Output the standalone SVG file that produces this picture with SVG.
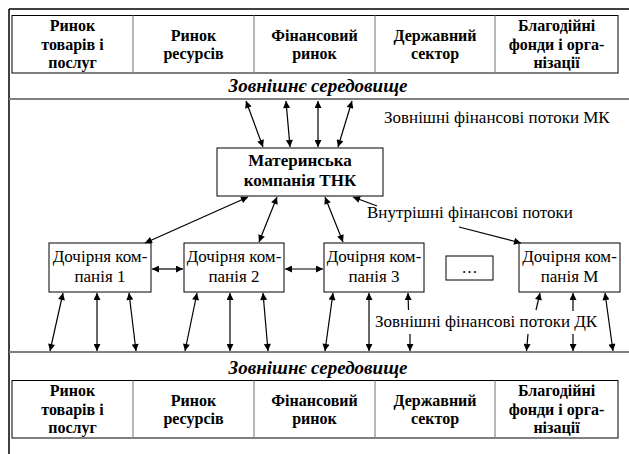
<svg xmlns="http://www.w3.org/2000/svg" width="629" height="454" viewBox="0 0 629 454">
<defs>
<marker id="ah" viewBox="0 0 10 10" refX="10" refY="5" markerWidth="9" markerHeight="7" markerUnits="userSpaceOnUse" orient="auto-start-reverse">
<path d="M0,0 L10,5 L0,10 z" fill="#000"/>
</marker>
</defs>
<rect width="629" height="454" fill="#fff"/>
<g id="frame">
<line x1="9" y1="9" x2="629" y2="9" stroke="#000" stroke-width="1.5"/>
<line x1="9" y1="9" x2="9" y2="454" stroke="#000" stroke-width="1.5"/>
<line x1="9" y1="99" x2="629" y2="99" stroke="#808080" stroke-width="2.2"/>
<line x1="9" y1="352" x2="629" y2="352" stroke="#808080" stroke-width="2.2"/>
</g>
<g id="top-table">
<rect x="12" y="15.5" width="606" height="57.5" fill="#fff" stroke="#000"/>
<line x1="133" y1="15.5" x2="133" y2="73" stroke="#888" stroke-width="1.2"/>
<line x1="254" y1="15.5" x2="254" y2="73" stroke="#888" stroke-width="1.2"/>
<line x1="375" y1="15.5" x2="375" y2="73" stroke="#888" stroke-width="1.2"/>
<line x1="495" y1="15.5" x2="495" y2="73" stroke="#888" stroke-width="1.2"/>
<text font-family="Liberation Serif" font-size="16" font-weight="bold" text-anchor="middle" x="72.5" y="31">Ринок</text>
<text font-family="Liberation Serif" font-size="16" font-weight="bold" text-anchor="middle" x="72.5" y="49.5">товарів і</text>
<text font-family="Liberation Serif" font-size="16" font-weight="bold" text-anchor="middle" x="72.5" y="68">послуг</text>
<text font-family="Liberation Serif" font-size="16" font-weight="bold" text-anchor="middle" x="193.5" y="40.5">Ринок</text>
<text font-family="Liberation Serif" font-size="16" font-weight="bold" text-anchor="middle" x="193.5" y="59">ресурсів</text>
<text font-family="Liberation Serif" font-size="16" font-weight="bold" text-anchor="middle" x="314.5" y="40.5">Фінансовий</text>
<text font-family="Liberation Serif" font-size="16" font-weight="bold" text-anchor="middle" x="314.5" y="59">ринок</text>
<text font-family="Liberation Serif" font-size="16" font-weight="bold" text-anchor="middle" x="435" y="40.5">Державний</text>
<text font-family="Liberation Serif" font-size="16" font-weight="bold" text-anchor="middle" x="435" y="59">сектор</text>
<text font-family="Liberation Serif" font-size="16" font-weight="bold" text-anchor="middle" x="556.5" y="31">Благодійні</text>
<text font-family="Liberation Serif" font-size="16" font-weight="bold" text-anchor="middle" x="556.5" y="49.5">фонди і орга-</text>
<text font-family="Liberation Serif" font-size="16" font-weight="bold" text-anchor="middle" x="556.5" y="68">нізації</text>
<text font-family="Liberation Serif" font-size="19" font-weight="bold" font-style="italic" text-anchor="middle" x="318" y="92">Зовнішнє середовище</text>
</g>
<g id="bottom-table">
<text font-family="Liberation Serif" font-size="19" font-weight="bold" font-style="italic" text-anchor="middle" x="318" y="374">Зовнішнє середовище</text>
<rect x="12" y="380.5" width="606" height="57.5" fill="#fff" stroke="#000"/>
<line x1="133" y1="380.5" x2="133" y2="438" stroke="#888" stroke-width="1.2"/>
<line x1="254" y1="380.5" x2="254" y2="438" stroke="#888" stroke-width="1.2"/>
<line x1="375" y1="380.5" x2="375" y2="438" stroke="#888" stroke-width="1.2"/>
<line x1="495" y1="380.5" x2="495" y2="438" stroke="#888" stroke-width="1.2"/>
<text font-family="Liberation Serif" font-size="16" font-weight="bold" text-anchor="middle" x="72.5" y="396">Ринок</text>
<text font-family="Liberation Serif" font-size="16" font-weight="bold" text-anchor="middle" x="72.5" y="414.5">товарів і</text>
<text font-family="Liberation Serif" font-size="16" font-weight="bold" text-anchor="middle" x="72.5" y="433">послуг</text>
<text font-family="Liberation Serif" font-size="16" font-weight="bold" text-anchor="middle" x="193.5" y="405.5">Ринок</text>
<text font-family="Liberation Serif" font-size="16" font-weight="bold" text-anchor="middle" x="193.5" y="424">ресурсів</text>
<text font-family="Liberation Serif" font-size="16" font-weight="bold" text-anchor="middle" x="314.5" y="405.5">Фінансовий</text>
<text font-family="Liberation Serif" font-size="16" font-weight="bold" text-anchor="middle" x="314.5" y="424">ринок</text>
<text font-family="Liberation Serif" font-size="16" font-weight="bold" text-anchor="middle" x="435" y="405.5">Державний</text>
<text font-family="Liberation Serif" font-size="16" font-weight="bold" text-anchor="middle" x="435" y="424">сектор</text>
<text font-family="Liberation Serif" font-size="16" font-weight="bold" text-anchor="middle" x="556.5" y="396">Благодійні</text>
<text font-family="Liberation Serif" font-size="16" font-weight="bold" text-anchor="middle" x="556.5" y="414.5">фонди і орга-</text>
<text font-family="Liberation Serif" font-size="16" font-weight="bold" text-anchor="middle" x="556.5" y="433">нізації</text>
</g>
<g id="mk">
<rect x="217" y="148" width="166" height="48" fill="#fff" stroke="#000"/>
<text font-family="Liberation Serif" font-size="17" font-weight="bold" text-anchor="middle" x="300" y="166">Материнська</text>
<text font-family="Liberation Serif" font-size="17" font-weight="bold" text-anchor="middle" x="300" y="186">компанія ТНК</text>
</g>
<g id="dk1">
<rect x="49" y="243" width="102" height="49" fill="#fff" stroke="#000"/>
<text font-family="Liberation Serif" font-size="17" text-anchor="middle" x="100" y="262">Дочірня ком-</text>
<text font-family="Liberation Serif" font-size="17" text-anchor="middle" x="100" y="282">панія 1</text>
</g>
<g id="dk2">
<rect x="184" y="243" width="100" height="49" fill="#fff" stroke="#000"/>
<text font-family="Liberation Serif" font-size="17" text-anchor="middle" x="234" y="262">Дочірня ком-</text>
<text font-family="Liberation Serif" font-size="17" text-anchor="middle" x="234" y="282">панія 2</text>
</g>
<g id="dk3">
<rect x="324" y="243" width="100" height="49" fill="#fff" stroke="#000"/>
<text font-family="Liberation Serif" font-size="17" text-anchor="middle" x="374" y="262">Дочірня ком-</text>
<text font-family="Liberation Serif" font-size="17" text-anchor="middle" x="374" y="282">панія 3</text>
</g>
<g id="dots">
<rect x="446" y="256" width="47" height="24" fill="#fff" stroke="#000"/>
<text font-family="Liberation Serif" font-size="16" text-anchor="middle" x="469.5" y="273">…</text>
</g>
<g id="dkm">
<rect x="519" y="243" width="101" height="49" fill="#fff" stroke="#000"/>
<text font-family="Liberation Serif" font-size="17" text-anchor="middle" x="569.5" y="262">Дочірня ком-</text>
<text font-family="Liberation Serif" font-size="17" text-anchor="middle" x="569.5" y="282">панія М</text>
</g>
<g id="labels">
<text font-family="Liberation Serif" font-size="17" x="384" y="123">Зовнішні фінансові потоки МК</text>
<text font-family="Liberation Serif" font-size="17" x="367" y="218">Внутрішні фінансові потоки</text>
<text font-family="Liberation Serif" font-size="17" x="375" y="327">Зовнішні фінансові потоки ДК</text>
</g>
<g id="connectors" stroke="#000" stroke-width="1.2" fill="none">
<line marker-start="url(#ah)" marker-end="url(#ah)" x1="246" y1="101" x2="263" y2="147"/>
<line marker-start="url(#ah)" marker-end="url(#ah)" x1="286" y1="101" x2="290" y2="147"/>
<line marker-start="url(#ah)" marker-end="url(#ah)" x1="318" y1="101" x2="318" y2="147"/>
<line marker-start="url(#ah)" marker-end="url(#ah)" x1="352" y1="101" x2="338" y2="147"/>
<line marker-start="url(#ah)" marker-end="url(#ah)" x1="248" y1="197" x2="145" y2="243"/>
<line marker-start="url(#ah)" marker-end="url(#ah)" x1="277" y1="197" x2="259" y2="242"/>
<line marker-start="url(#ah)" marker-end="url(#ah)" x1="325" y1="197" x2="343" y2="242"/>
<line marker-end="url(#ah)" x1="377" y1="206" x2="353" y2="197"/>
<line marker-end="url(#ah)" x1="459" y1="227" x2="521" y2="243"/>
<line marker-start="url(#ah)" marker-end="url(#ah)" x1="152" y1="269" x2="183" y2="269"/>
<line marker-start="url(#ah)" marker-end="url(#ah)" x1="285" y1="269" x2="323" y2="269"/>
<line marker-start="url(#ah)" marker-end="url(#ah)" x1="63" y1="293" x2="50" y2="351"/>
<line marker-start="url(#ah)" marker-end="url(#ah)" x1="97" y1="293" x2="97" y2="351"/>
<line marker-start="url(#ah)" marker-end="url(#ah)" x1="129" y1="293" x2="136" y2="351"/>
<line marker-start="url(#ah)" marker-end="url(#ah)" x1="197" y1="293" x2="185" y2="351"/>
<line marker-start="url(#ah)" marker-end="url(#ah)" x1="230" y1="293" x2="230" y2="351"/>
<line marker-start="url(#ah)" marker-end="url(#ah)" x1="263" y1="293" x2="268" y2="351"/>
<line marker-start="url(#ah)" marker-end="url(#ah)" x1="333" y1="293" x2="325" y2="351"/>
<line marker-start="url(#ah)" marker-end="url(#ah)" x1="369" y1="293" x2="369" y2="351"/>
<line marker-end="url(#ah)" x1="408.5" y1="310" x2="408" y2="293"/>
<line marker-end="url(#ah)" x1="410" y1="334" x2="410" y2="351"/>
<line marker-end="url(#ah)" x1="536" y1="310" x2="540" y2="293"/>
<line marker-end="url(#ah)" x1="528" y1="334" x2="526.5" y2="351"/>
<line marker-end="url(#ah)" x1="573" y1="311" x2="573" y2="293"/>
<line marker-end="url(#ah)" x1="573" y1="334" x2="573" y2="351"/>
<line marker-start="url(#ah)" marker-end="url(#ah)" x1="605" y1="293" x2="613" y2="351"/>
</g>
</svg>
